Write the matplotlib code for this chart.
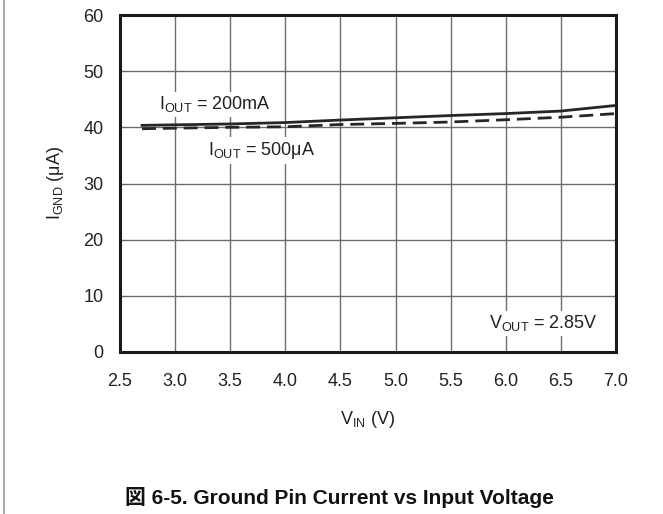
import matplotlib
matplotlib.use("Agg")
import matplotlib.pyplot as plt
from matplotlib.lines import Line2D

plt.rcParams["font.family"] = ["Liberation Sans", "Noto Sans CJK JP", "DejaVu Sans"]
plt.rcParams["mathtext.fontset"] = "custom"
plt.rcParams["mathtext.rm"] = "Liberation Sans"
plt.rcParams["mathtext.it"] = "Liberation Sans"

# Ground pin current (uA) vs input voltage (V), VOUT = 2.85V
vin = [2.7, 3.0, 3.5, 4.0, 4.5, 5.0, 5.5, 6.0, 6.5, 7.0]
ignd_200ma = [40.35, 40.45, 40.6, 40.85, 41.3, 41.7, 42.1, 42.45, 42.9, 43.9]
ignd_500ua = [39.75, 39.85, 40.0, 40.1, 40.5, 40.7, 40.95, 41.35, 41.8, 42.45]

x_ticks = [2.5, 3.0, 3.5, 4.0, 4.5, 5.0, 5.5, 6.0, 6.5, 7.0]
y_ticks = [0, 10, 20, 30, 40, 50, 60]

fig = plt.figure(figsize=(6.63, 5.14), dpi=100)
ax = fig.add_axes([120 / 663, 1 - 352 / 514, 496 / 663, 337 / 514])

ax.plot(vin, ignd_200ma, color="#262626", lw=2.0, zorder=3)
ax.plot(vin, ignd_500ua, color="#262626", lw=2.0, ls=(0, (5, 2.5)), zorder=3)

ax.set_xlim(2.5, 7.0)
ax.set_ylim(0, 60)
ax.set_xticks(x_ticks)
ax.set_xticklabels([f"{v:.1f}" for v in x_ticks])
ax.set_yticks(y_ticks)
ax.grid(True, color="#6e6e6e", lw=1.0)
ax.tick_params(axis="both", length=0, labelsize=13, colors="#222222")
ax.tick_params(axis="x", pad=15)
ax.tick_params(axis="y", pad=12)
for s in ax.spines.values():
    s.set_linewidth(2.2)
    s.set_color("#1a1a1a")

ax.set_xlabel(r"V$_{\mathrm{IN}}$ (V)", fontsize=13, labelpad=14, color="#222222")
ax.set_ylabel(r"I$_{\mathrm{GND}}$ ($\mu$A)", fontsize=13, labelpad=12, color="#222222")

box = dict(facecolor="white", edgecolor="none", pad=2)
ax.text(2.85, 43.2, r"I$_{\mathrm{OUT}}$ = 200mA", fontsize=13, va="baseline",
        color="#222222", bbox=box)
ax.text(3.30, 35.1, r"I$_{\mathrm{OUT}}$ = 500$\mu$A", fontsize=13, va="baseline",
        color="#222222", bbox=box)
ax.text(6.83, 4.2, r"V$_{\mathrm{OUT}}$ = 2.85V", fontsize=13, va="baseline", ha="right",
        color="#222222", bbox=box)

fig.text(339 / 663, 1 - 497 / 514, "図 6-5. Ground Pin Current vs Input Voltage",
         ha="center", va="center", fontsize=15, fontweight="bold", color="#111111")

fig.add_artist(Line2D([4 / 663, 4 / 663], [0.0, 1.0], color="#9a9a9a", lw=1.2,
                      transform=fig.transFigure))

fig.savefig("out.png", dpi=100)
